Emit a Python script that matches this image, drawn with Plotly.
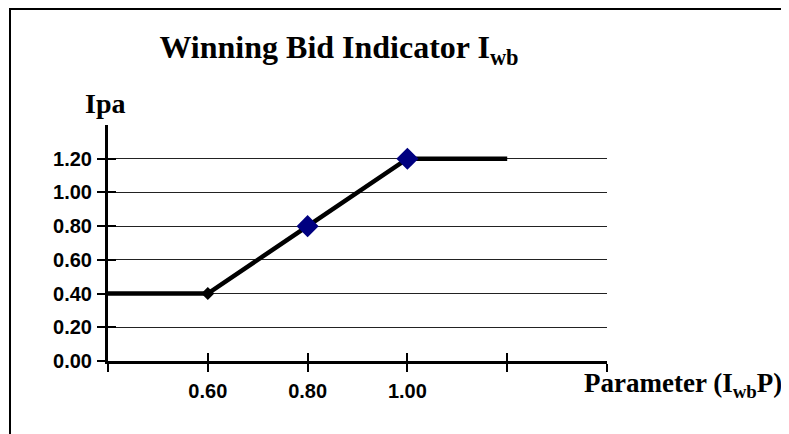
import plotly.graph_objects as go

# Data
param_x = [0.40, 0.60, 0.80, 1.00, 1.20]
ipa_y = [0.40, 0.40, 0.80, 1.20, 1.20]
marker_sizes = [0, 10, 17, 17, 0]
marker_colors = ["black", "black", "#000080", "#000080", "black"]

x_tick_vals = [0.40, 0.60, 0.80, 1.00, 1.20, 1.40]
x_tick_text = ["", "0.60", "0.80", "1.00", "", ""]
y_tick_vals = [0.00, 0.20, 0.40, 0.60, 0.80, 1.00, 1.20]
y_tick_text = ["0.00", "0.20", "0.40", "0.60", "0.80", "1.00", "1.20"]

# page body has an 8px margin at left/top
OFF = 8
W, H = 789 - OFF, 434 - OFF
# plot area in screen pixels: x 108..607, y 125..361
L, T = 108 - OFF, 125 - OFF
R = W - (607 - OFF)
B = H - (361 - OFF)
PW, PH = W - L - R, H - T - B


def px(sx):
    return (sx - OFF - L) / PW


def py(sy):
    return (H - B - (sy - OFF)) / PH


fig = go.Figure()
fig.add_trace(go.Scatter(
    x=param_x, y=ipa_y, mode="lines+markers",
    line=dict(color="black", width=4.5),
    marker=dict(symbol="diamond", size=marker_sizes, color=marker_colors,
                opacity=1, line=dict(width=0)),
    showlegend=False, cliponaxis=False, opacity=1,
))

serif = "Liberation Serif, Times New Roman, serif"
sans = "Liberation Sans, Arial, sans-serif"

fig.update_layout(
    width=W, height=H,
    margin=dict(l=L, r=R, t=T, b=B, pad=0),
    paper_bgcolor="white", plot_bgcolor="white",
    title=dict(
        text="Winning Bid Indicator I<sub>wb</sub>",
        font=dict(family=serif, size=32, color="black", weight="bold"),
        x=(339 - OFF) / W, xanchor="center", xref="container",
        y=1 - (47 - OFF) / H, yanchor="middle", yref="container",
    ),
    xaxis=dict(
        range=[0.40, 1.40], tickmode="array",
        tickvals=x_tick_vals, ticktext=x_tick_text,
        showgrid=False, zeroline=False,
        showline=True, linecolor="black", linewidth=3,
        ticks="outside", ticklen=8, tickwidth=2, tickcolor="black",
        tickfont=dict(family=sans, size=20, color="black", weight="bold"),
        ticklabelstandoff=2,
    ),
    xaxis2=dict(
        range=[0.40, 1.40], tickmode="array", tickvals=x_tick_vals,
        overlaying="x", anchor="y", side="bottom",
        showgrid=False, zeroline=False, showline=False,
        showticklabels=False,
        ticks="inside", ticklen=8, tickwidth=2, tickcolor="black",
    ),
    yaxis=dict(
        range=[0, 1.40], tickmode="array",
        tickvals=y_tick_vals, ticktext=y_tick_text,
        showgrid=True, gridcolor="#222222", gridwidth=1,
        zeroline=False,
        showline=True, linecolor="black", linewidth=3,
        ticks="outside", ticklen=8, tickwidth=2, tickcolor="black",
        tickfont=dict(family=sans, size=20, color="black", weight="bold"),
        ticklabelstandoff=1,
    ),
    yaxis2=dict(
        range=[0, 1.40], tickmode="array", tickvals=y_tick_vals,
        overlaying="y", anchor="x", side="left",
        showgrid=False, zeroline=False, showline=False,
        showticklabels=False,
        ticks="inside", ticklen=8, tickwidth=2, tickcolor="black",
    ),
)

# invisible trace to activate the overlay axes
fig.add_trace(go.Scatter(x=[None], y=[None], xaxis="x2", yaxis="y2",
                         showlegend=False, hoverinfo="skip"))

# Axis titles as annotations
fig.add_annotation(
    text="Ipa", xref="paper", yref="paper",
    x=px(105), y=py(103),
    xanchor="center", yanchor="middle", showarrow=False,
    font=dict(family=serif, size=28, color="black", weight="bold"),
)
fig.add_annotation(
    text="Parameter (I<sub>wb</sub>P)", xref="paper", yref="paper",
    x=px(683), y=py(385),
    xanchor="center", yanchor="middle", showarrow=False,
    font=dict(family=serif, size=27, color="black", weight="bold"),
)

# Frame around the chart: only its left and top edges are inside the page
x0, x1 = px(10), px(900)
y0, y1 = py(600), py(9)
fig.add_shape(
    type="path", xref="paper", yref="paper",
    path=f"M {x0},{y0} L {x0},{y1} L {x1},{y1}",
    line=dict(color="black", width=2), fillcolor="rgba(0,0,0,0)",
    layer="below",
)

fig.write_html("out.html")
